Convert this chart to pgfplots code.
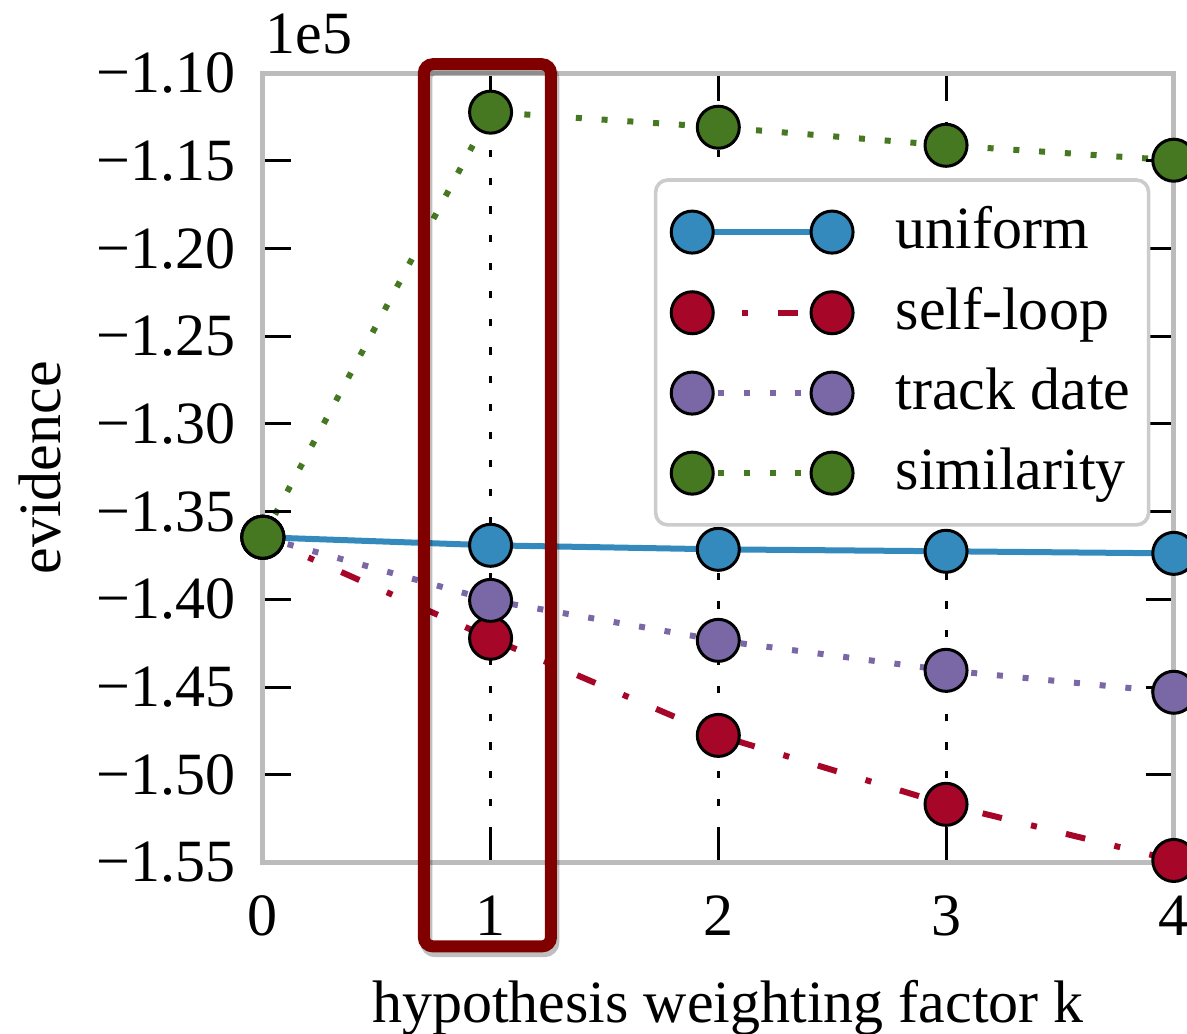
\documentclass[border=0pt]{standalone}
\usepackage{fontspec}
\setmainfont{Liberation Serif}
\usepackage{pgfplots}
\pgfplotsset{compat=1.18}
\usetikzlibrary{calc}

\definecolor{cUni}{HTML}{348ABD}
\definecolor{cSelf}{HTML}{A60628}
\definecolor{cTrack}{HTML}{7A68A6}
\definecolor{cSim}{HTML}{467821}
\definecolor{framegray}{HTML}{BCBCBC}
\definecolor{boxred}{HTML}{800000}

\pgfplotsset{
  dot/.style={mark=*, mark size=3.5pt, line width=1pt,
    mark options={solid, fill=#1, draw=black, line width=0.5pt}},
}

\begin{document}
\begin{tikzpicture}[font=\fontsize{10}{12}\selectfont]
\begin{axis}[
  scale only axis, width=151.8pt, height=131.5pt,
  xmin=0, xmax=4, ymin=-155000, ymax=-110000,
  xtick={0,1,2,3,4},
  ytick={-155000,-150000,-145000,-140000,-135000,-130000,-125000,-120000,-115000,-110000},
  yticklabels={−1.55,−1.50,−1.45,−1.40,−1.35,−1.30,−1.25,−1.20,−1.15,−1.10},
  scaled y ticks=false,
  /pgf/number format/assume math mode=true,
  xticklabel style={yshift=-2pt},
  yticklabel style={xshift=-1pt},
  axis line style={framegray, line width=0.8pt},
  tick style={black, line width=0.5pt},
  major tick length=4.7pt,
  tick align=inside,
  xmajorgrids,
  major x grid style={black, line width=0.5pt, dash pattern=on 1.2pt off 3.5pt},
  axis on top,
  clip=false,
  xlabel={hypothesis weighting factor k},
  ylabel={evidence},
  xlabel style={at={(axis description cs:0.5,0)}, anchor=center, yshift=-24.2pt, xshift=1.6pt},
  ylabel style={at={(axis description cs:-0.245,0.5)}, anchor=center},
  legend style={at={(rel axis cs:1,1)}, anchor=north east, xshift=-3.9pt, yshift=-17.5pt,
    draw=black!20, line width=0.6pt, rounded corners=2pt, fill=white,
    inner xsep=2.6pt, inner ysep=2.4pt, row sep=0.9pt,
    nodes={inner sep=2pt, inner xsep=0.4pt},
    /tikz/every odd column/.append style={column sep=6.7pt}},
  legend cell align=left,
  legend image code/.code={
    \draw[#1, mark=none] (0pt,0pt) -- (23.3pt,0pt);
    \draw[#1] plot[only marks] coordinates {(0pt,0pt) (23.3pt,0pt)};
  },
]
\addplot[cUni, dot=cUni] coordinates {
  (0,-136460) (1,-136920) (2,-137150) (3,-137260) (4,-137380)};
\addlegendentry{uniform}
\addplot[cSelf, dot=cSelf, dash pattern=on 3.3pt off 5pt on 1pt off 5pt] coordinates {
  (0,-136460) (1,-142220) (2,-147760) (3,-151690) (4,-154890)};
\addlegendentry{self-loop}
\addplot[cTrack, dot=cTrack, dash pattern=on 1pt off 3.3pt] coordinates {
  (0,-136460) (1,-140060) (2,-142340) (3,-144050) (4,-145300)};
\addlegendentry{track date}
\addplot[cSim, dot=cSim, dash pattern=on 1pt off 3.3pt] coordinates {
  (0,-136460) (1,-112220) (2,-113080) (3,-114110) (4,-114960)};
\addlegendentry{similarity}

\node[anchor=base west, inner sep=0pt] at (rel axis cs:0,1) [yshift=3.3pt, xshift=0.3pt] {1e5};
\coordinate (bl) at (rel axis cs:0,0);
\coordinate (tr) at (rel axis cs:1,1);
\coordinate (boxbl) at (axis cs:0.707,-159791);
\coordinate (boxtr) at (axis cs:1.265,-109487);
\end{axis}
\draw[black, opacity=0.25, line width=2pt, rounded corners=1.5pt]
  ($(boxbl)+(0.4pt,-0.8pt)$) rectangle ($(boxtr)+(0.4pt,-0.8pt)$);
\draw[boxred, line width=2pt, rounded corners=1.5pt] (boxbl) rectangle (boxtr);
\pgfresetboundingbox
\path[use as bounding box] ($(bl)+(-43.8pt,-28.5pt)$) rectangle ($(tr)+(2.2pt,12.2pt)$);
\end{tikzpicture}
\end{document}
